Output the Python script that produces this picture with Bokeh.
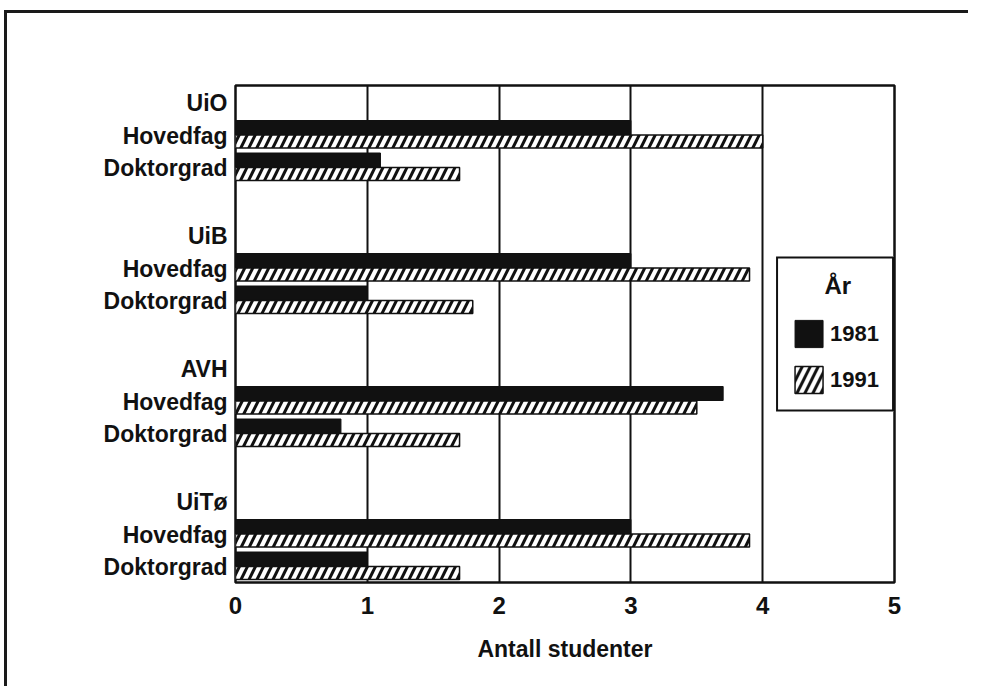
from bokeh.plotting import figure
from bokeh.models import Range1d, FixedTicker, Legend, LegendItem, ColumnDataSource
from bokeh.embed import file_html
from bokeh.resources import INLINE

# ---- data -------------------------------------------------------------
institutions = ["UiO", "UiB", "AVH", "UiTø"]
degrees = ["Hovedfag", "Doktorgrad"]
years = ["1981", "1991"]
hovedfag_1981 = [3.0, 3.0, 3.7, 3.0]
hovedfag_1991 = [4.0, 3.9, 3.5, 3.9]
doktorgrad_1981 = [1.1, 1.0, 0.8, 1.0]
doktorgrad_1991 = [1.7, 1.8, 1.7, 1.7]
x_ticks = [0, 1, 2, 3, 4, 5]
x_title = "Antall studenter"
legend_title = "År"

# ---- layout constants (vertical slots, in frame pixels) -----------------
FIRST = 42      # centre of first bar below frame top
GROUP = 133     # distance between institution groups
ROW = 32.5      # Hovedfag -> Doktorgrad
BAR = 14        # 1981 -> 1991 bar
FONT = "Liberation Sans"
INK = "#111111"
TITLE_INDENT = "\u00a0" * 5   # visually centres the legend title

y81, v81, y91, v91 = [], [], [], []
ticks, overrides = [], {}
for g, inst in enumerate(institutions):
    base = FIRST + g * GROUP
    vals = [(hovedfag_1981[g], hovedfag_1991[g]), (doktorgrad_1981[g], doktorgrad_1991[g])]
    for r, (a, b) in enumerate(vals):
        y81.append(base + r * ROW)
        v81.append(a)
        y91.append(base + r * ROW + BAR)
        v91.append(b)
    for pos, txt in [(base - 25, inst), (base + 8, degrees[0]), (base + 40, degrees[1])]:
        ticks.append(pos)
        overrides[pos] = txt

W, H = 964, 676
FL, FT, FR, FB = 228, 72, 887, 569

p = figure(width=W, height=H, output_backend="svg", toolbar_location=None,
           x_range=Range1d(0, 5), y_range=Range1d(FB - FT, 0),
           min_border_left=FL, min_border_top=FT,
           min_border_right=W - FR, min_border_bottom=H - FB)
p.styles = {"border-left": "3px solid #1a1a1a", "border-top": "3px solid #1a1a1a",
            "margin-left": "4px", "margin-top": "10px"}
p.background_fill_color = "white"
p.border_fill_color = "white"
p.outline_line_color = INK
p.outline_line_width = 2.5

src81 = ColumnDataSource(dict(y=y81, right=v81))
src91 = ColumnDataSource(dict(y=y91, right=v91))
r81 = p.hbar(y="y", right="right", left=0, height=14, source=src81,
             fill_color=INK, line_color=INK, line_width=1)
r91 = p.hbar(y="y", right="right", left=0, height=13, source=src91,
             fill_color="white", line_color=INK, line_width=1.5,
             hatch_pattern="/", hatch_color=INK, hatch_weight=3, hatch_scale=16)

# x axis
p.xaxis.ticker = FixedTicker(ticks=x_ticks)
p.xaxis.axis_line_color = None
p.xaxis.major_tick_line_color = None
p.xaxis.major_tick_out = 0
p.xaxis.minor_tick_line_color = None
p.xaxis.major_label_text_font = FONT
p.xaxis.major_label_text_font_size = "24px"
p.xaxis.major_label_text_font_style = "bold"
p.xaxis.major_label_text_color = INK
p.xaxis.major_label_standoff = 14
p.xaxis.axis_label = x_title
p.xaxis.axis_label_text_font = FONT
p.xaxis.axis_label_text_font_size = "23px"
p.xaxis.axis_label_text_font_style = "bold"
p.xaxis.axis_label_text_color = INK
p.xaxis.axis_label_standoff = 19

# y axis
p.yaxis.ticker = FixedTicker(ticks=ticks)
p.yaxis.major_label_overrides = overrides
p.yaxis.axis_line_color = None
p.yaxis.major_tick_line_color = None
p.yaxis.major_tick_out = 0
p.yaxis.minor_tick_line_color = None
p.yaxis.major_label_text_font = FONT
p.yaxis.major_label_text_font_size = "23px"
p.yaxis.major_label_text_font_style = "bold"
p.yaxis.major_label_text_color = INK
p.yaxis.major_label_standoff = 8

# grid
p.xgrid.ticker = FixedTicker(ticks=x_ticks[1:-1])
p.xgrid.grid_line_color = INK
p.xgrid.grid_line_width = 2
p.ygrid.grid_line_color = None

legend = Legend(items=[LegendItem(label=years[0], renderers=[r81]),
                       LegendItem(label=years[1], renderers=[r91])],
                location="right", margin=0, padding=13, spacing=12,
                glyph_width=35, glyph_height=34, label_height=34, label_standoff=4,
                label_text_font=FONT, label_text_font_size="22px",
                label_text_font_style="bold", label_text_color=INK,
                border_line_color=INK, border_line_width=2.5, border_line_alpha=1,
                background_fill_color="white", background_fill_alpha=1,
                title=TITLE_INDENT + legend_title, title_text_font=FONT,
                title_text_font_size="24px", title_text_font_style="bold",
                title_text_color=INK, title_standoff=17)
p.add_layout(legend, "center")

open("out.html", "w").write(file_html(p, INLINE))
